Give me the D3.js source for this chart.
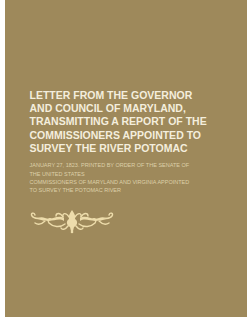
<!DOCTYPE html>
<html><head><meta charset="utf-8">
<script src="https://cdn.jsdelivr.net/npm/d3@7"></script>
<style>html,body{margin:0;padding:0;background:#fff;}svg{display:block;}</style>
</head><body>
<script>
const titleLines = [
  "LETTER FROM THE GOVERNOR",
  "AND COUNCIL OF MARYLAND,",
  "TRANSMITTING A REPORT OF THE",
  "COMMISSIONERS APPOINTED TO",
  "SURVEY THE RIVER POTOMAC"
];
const subtitleLines = [
  "JANUARY 27, 1823. PRINTED BY ORDER OF THE SENATE OF",
  "THE UNITED STATES",
  "COMMISSIONERS OF MARYLAND AND VIRGINIA APPOINTED",
  "TO SURVEY THE POTOMAC RIVER"
];

const W = 247, H = 317;
const svg = d3.select("body").append("svg").attr("width", W).attr("height", H);
svg.append("rect").attr("x", 5).attr("y", 0).attr("width", W - 5).attr("height", H).attr("fill", "#9e895b");

const yTitle = d3.scaleLinear().domain([0, 1]).range([99, 112.2]);
svg.append("g").selectAll("text").data(titleLines).join("text")
  .attr("x", 29.5).attr("y", (d, i) => yTitle(i))
  .attr("font-family", "Liberation Sans, Arial, sans-serif")
  .attr("font-weight", "bold").attr("font-size", 10.5)
  .attr("fill", "#f4eedd").text(d => d);

const ySub = d3.scaleLinear().domain([0, 1]).range([167.4, 175.7]);
svg.append("g").selectAll("text").data(subtitleLines).join("text")
  .attr("x", 29.5).attr("y", (d, i) => ySub(i))
  .attr("font-family", "Liberation Sans, Arial, sans-serif")
  .attr("font-size", 5.5)
  .attr("fill", "#ddd0a9").text(d => d);

// ornament
const col = "#eddcab";
const orn = svg.append("g").attr("transform", "translate(72,220)")
  .attr("fill", "none").attr("stroke", col).attr("stroke-width", 1.4).attr("stroke-linecap", "round");
function side(g) {
  g.append("path").attr("fill", col).attr("stroke", "none")
    .attr("d", "M-8,1 C-14,-3 -20,3 -28,0 C-33,-2 -37,-1 -39,-3 C-35,-1 -31,-4 -27,-2 C-20,1 -15,-6 -8,-2 Z");
  g.append("path").attr("d", "M-28,0 C-34,-2 -38,-1 -40,-4 C-42,-7 -38,-8 -37,-5");
  g.append("path").attr("d", "M-7,4 C-12,8 -19,7 -23,3 C-25,0 -23,-2 -21,-1");
  g.append("path").attr("d", "M-27,1 C-30,4 -34,5 -37,3");
  g.append("path").attr("d", "M-9,-3 C-12,-8 -16,-7 -16,-4");
  g.append("path").attr("d", "M-4,6 C-7,10 -10,10 -11,8");
}
side(orn.append("g"));
side(orn.append("g").attr("transform", "scale(-1,1)"));
orn.append("path").attr("fill", col).attr("stroke", "none")
  .attr("d", "M0,-10 C2,-7 4,-4 3,-1 C6,1 6,5 2,7 L0.8,12 L-0.8,12 L-2,7 C-6,5 -6,1 -3,-1 C-4,-4 -2,-7 0,-10 Z");
orn.append("path").attr("d", "M-3,-3 C-6,-8 -10,-7 -9,-3 M3,-3 C6,-8 10,-7 9,-3");
orn.append("circle").attr("cx", 0).attr("cy", 12).attr("r", 1.3).attr("fill", col).attr("stroke", "none");
</script>
</body></html>
